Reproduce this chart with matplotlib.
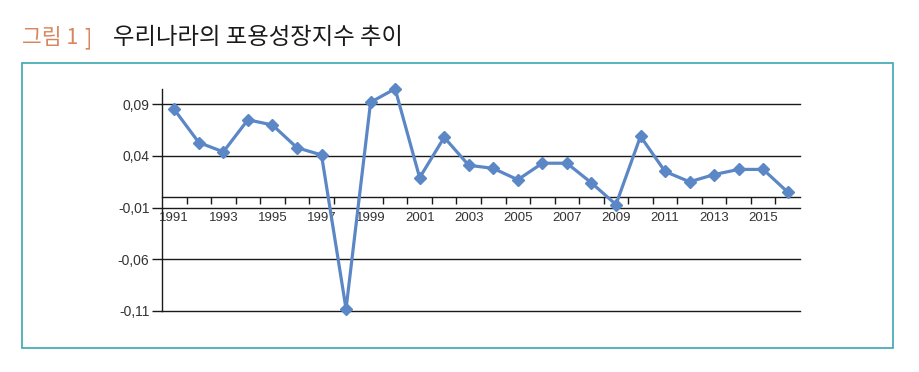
import matplotlib
matplotlib.use("Agg")
import matplotlib.pyplot as plt
from matplotlib.patches import Rectangle
from matplotlib.ticker import FixedLocator, FuncFormatter

# data
years = list(range(1991, 2017))
index_values = [0.085, 0.053, 0.044, 0.075, 0.070, 0.048, 0.041, -0.108,
                0.092, 0.105, 0.019, 0.058, 0.031, 0.028, 0.017, 0.033,
                0.033, 0.014, -0.007, 0.059, 0.025, 0.015, 0.022, 0.027,
                0.027, 0.005]
y_ticks = [-0.11, -0.06, -0.01, 0.04, 0.09]
title_text = "우리나라의 포용성장지수 추이"

W, H = 919, 372
fig = plt.figure(figsize=(W / 100, H / 100), dpi=100)
fig.patch.set_facecolor("white")

# teal frame around the chart
fig.patches.append(Rectangle((21.5 / W, 1 - 348.3 / H), (893.3 - 21.5) / W,
                             (348.3 - 63.3) / H, transform=fig.transFigure,
                             fill=False, edgecolor="#3AA7B0", linewidth=1.2))

# title
cjk = ["Noto Sans CJK KR", "DejaVu Sans"]
fig.text(22 / W, 1 - 38 / H, "그림 1", color="#D8865E", fontsize=15.5,
         family=cjk, va="center", ha="left")
fig.text(84 / W, 1 - 38 / H, "]", color="#D8865E", fontsize=15.5,
         family=cjk, va="center", ha="left")
fig.text(113 / W, 1 - 38 / H, title_text, color="#1a1a1a", fontsize=16.8,
         family=cjk, va="center", ha="left")

ymin, ymax = -0.11, 0.105
top_px = 311 - (ymax - ymin) * 1033.5
ax = fig.add_axes([162 / W, 1 - 311 / H, (800 - 162) / W, (311 - top_px) / H])

x = list(range(len(years)))
ax.set_xlim(-0.5, len(years) - 0.5)
ax.set_ylim(ymin, ymax)

for yv in y_ticks:
    ax.axhline(yv, color="#1a1a1a", linewidth=1.0, zorder=1, clip_on=False)

ax.plot(x, index_values, color="#5B87C6", linewidth=2.3, marker="D",
        markersize=5.8, zorder=3, clip_on=False)

# spines
for side in ["top", "right"]:
    ax.spines[side].set_visible(False)
ax.spines["left"].set_color("#1a1a1a")
ax.spines["left"].set_linewidth(1.0)
ax.spines["bottom"].set_position(("data", 0))
ax.spines["bottom"].set_color("#1a1a1a")
ax.spines["bottom"].set_linewidth(1.0)

# y ticks with comma decimals
ax.set_yticks(y_ticks)
ax.yaxis.set_major_formatter(FuncFormatter(lambda v, p: f"{v:.2f}".replace(".", ",")))
ax.tick_params(axis="y", length=7, width=1.0, color="#1a1a1a", pad=2,
               labelsize=10, labelcolor="#333333")
for lab in ax.get_yticklabels():
    lab.set_family(["Liberation Sans", "DejaVu Sans"])

# x ticks: marks at category boundaries, labels for odd years at centers
ax.xaxis.set_major_locator(FixedLocator([i + 0.5 for i in range(len(years) - 1)]))
ax.xaxis.set_major_formatter(FuncFormatter(lambda v, p: ""))
ax.tick_params(axis="x", which="major", length=5, width=1.0, color="#1a1a1a",
               direction="out")
label_pos = [i for i, yr in enumerate(years) if yr % 2 == 1]
ax.xaxis.set_minor_locator(FixedLocator(label_pos))
ax.xaxis.set_minor_formatter(FuncFormatter(lambda v, p: str(years[int(round(v))])))
ax.tick_params(axis="x", which="minor", length=0, pad=10.5, labelsize=9.5,
               labelcolor="#333333")
for lab in ax.get_xticklabels(minor=True):
    lab.set_family(["Liberation Sans Narrow", "Liberation Sans", "DejaVu Sans"])

fig.savefig("out.png", dpi=100, facecolor="white")
